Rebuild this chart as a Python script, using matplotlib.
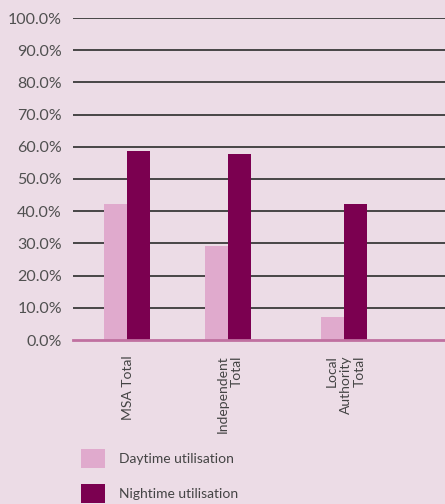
import matplotlib
matplotlib.use('Agg')
import matplotlib.pyplot as plt
import numpy as np

categories = ['MSA Total', 'Independent\nTotal', 'Local\nAuthority\nTotal']
daytime = [42.2, 29.2, 7.1]
nighttime = [58.7, 57.8, 42.2]
series_names = ['Daytime utilisation', 'Nightime utilisation']
yticks = [0, 10, 20, 30, 40, 50, 60, 70, 80, 90, 100]

bg = '#ecdce6'
day_col = '#e0aacd'
night_col = '#7b0050'

plt.rcParams['font.family'] = ['Lato', 'DejaVu Sans']

fig = plt.figure(figsize=(4.45, 5.04), dpi=100, facecolor=bg)
ax = fig.add_axes([73 / 445, 164 / 504, 372 / 445, 322 / 504], facecolor=bg)

# group centres (uneven spacing, as in the original)
centres = np.array([0.535, 1.55, 2.71])
w = 0.23
ax.bar(centres - w / 2, daytime, w, color=day_col, zorder=3, label=series_names[0])
ax.bar(centres + w / 2, nighttime, w, color=night_col, zorder=3, label=series_names[1])

ax.set_xlim(0, 3.72)
ax.set_ylim(0, 100)
ax.set_yticks(yticks)
ax.set_yticklabels(['%.1f%%' % v for v in yticks], fontsize=11.5, color='#505050')
ax.tick_params(axis='y', length=0, pad=8)
for v in yticks[1:]:
    ax.axhline(v, color='#3a3a3a', lw=1.3, zorder=1)
ax.axhline(0, color='#c070a0', lw=2, zorder=4, clip_on=False)

ax.set_xticks(centres + 0.02)
ax.set_xticklabels(categories, rotation=90, fontsize=10, color='#444444',
                   va='top', ha='center', multialignment='right')
ax.tick_params(axis='x', length=0, pad=11)

for s in ax.spines.values():
    s.set_visible(False)

handles, labels = ax.get_legend_handles_labels()
fig.legend(handles, labels, loc='upper left', bbox_to_anchor=(68 / 445, 1 - 436 / 504),
           frameon=False, fontsize=10, labelcolor='#444444',
           handlelength=1.75, handleheight=1.75, handletextpad=1.0, labelspacing=1.15)

fig.savefig('out.png', dpi=100, facecolor=bg)
